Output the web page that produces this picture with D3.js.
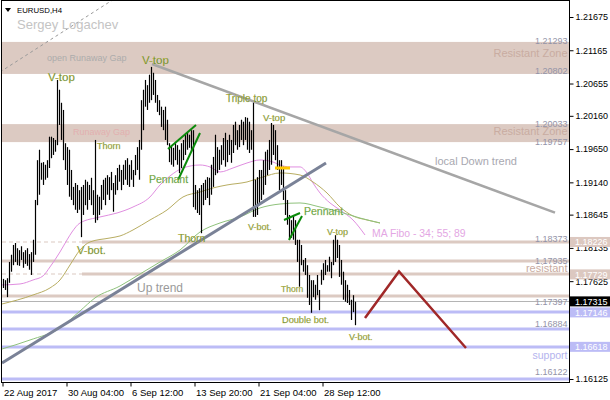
<!DOCTYPE html>
<html><head><meta charset="utf-8">
<script src="https://cdn.jsdelivr.net/npm/d3@7/dist/d3.min.js"></script>
<style>html,body{margin:0;padding:0;background:#fff;}svg{display:block;font-family:"Liberation Sans",Arial,sans-serif;}</style>
</head><body><svg id="c" width="610" height="400"></svg>
<script>
// ---------- data ----------
const highs = [
1.1766,1.1764,1.1767,1.1792,1.1803,1.1818,1.1821,1.1813,1.1810,1.1816,
1.1807,1.1810,1.1813,1.1804,1.1807,1.1826,1.1887,1.1948,1.1964,1.1944,
1.1945,1.1941,1.1948,1.1984,1.1984,1.1982,1.1979,1.2071,1.2056,1.2036,
1.2025,1.1974,1.1968,1.1964,1.1933,1.1907,1.1913,1.1910,1.1902,1.1907,
1.1910,1.1918,1.1915,1.1910,1.1921,1.1902,1.1979,1.1895,1.1892,1.1910,
1.1918,1.1921,1.1925,1.1922,1.1930,1.1913,1.1925,1.1936,1.1941,1.1933,
1.1941,1.1948,1.1951,1.1941,1.1948,1.1933,1.1956,1.1968,1.1979,1.2040,
1.2056,1.2071,1.2063,1.2079,1.2091,1.2082,1.2071,1.2048,1.2040,1.2030,
1.2025,1.2030,1.2010,1.1974,1.1971,1.1967,1.1974,1.1971,1.1964,1.1974,
1.1979,1.1987,1.1990,1.1987,1.1994,1.1994,1.1910,1.1902,1.1905,1.1910,
1.1913,1.1918,1.1922,1.1921,1.1941,1.1953,1.1987,1.1968,1.1964,1.1971,
1.1982,1.1990,1.1979,1.1987,1.1979,1.2002,1.2007,1.1994,1.2002,1.2010,
1.2007,1.2014,1.2013,1.2007,1.1994,1.2036,1.1918,1.1922,1.1933,1.1933,
1.1948,1.1961,1.1964,1.1979,1.2005,1.2002,1.1994,1.1971,1.1948,1.1948,
1.1938,1.1902,1.1887,1.1864,1.1856,1.1864,1.1856,1.1826,1.1826,1.1818,
1.1795,1.1798,1.1787,1.1772,1.1764,1.1764,1.1757,1.1772,1.1749,1.1780,
1.1790,1.1795,1.1787,1.1800,1.1792,1.1826,1.1833,1.1826,1.1818,1.1795,
1.1777,1.1764,1.1757,1.1749,1.1734,1.1741,1.1731];
const lows = [
1.1752,1.1749,1.1738,1.1760,1.1777,1.1787,1.1792,1.1787,1.1786,1.1795,
1.1783,1.1789,1.1786,1.1780,1.1772,1.1792,1.1803,1.1879,1.1895,1.1918,
1.1910,1.1918,1.1921,1.1936,1.1951,1.1956,1.1961,1.1971,1.2002,1.1979,
1.1948,1.1933,1.1910,1.1892,1.1887,1.1879,1.1872,1.1867,1.1872,1.1830,
1.1864,1.1879,1.1872,1.1887,1.1879,1.1864,1.1852,1.1856,1.1864,1.1872,
1.1887,1.1879,1.1895,1.1887,1.1902,1.1869,1.1895,1.1902,1.1915,1.1902,
1.1910,1.1918,1.1910,1.1907,1.1918,1.1907,1.1925,1.1933,1.1918,1.1964,
1.1994,1.2030,1.2025,1.2036,1.2040,1.2048,1.2036,1.2022,1.2017,1.1999,
1.1994,1.1979,1.1971,1.1945,1.1941,1.1938,1.1948,1.1941,1.1928,1.1936,
1.1948,1.1956,1.1964,1.1967,1.1961,1.1876,1.1872,1.1867,1.1864,1.1836,
1.1879,1.1887,1.1890,1.1879,1.1895,1.1907,1.1925,1.1928,1.1933,1.1941,
1.1948,1.1938,1.1945,1.1956,1.1944,1.1959,1.1971,1.1964,1.1968,1.1979,
1.1971,1.1979,1.1964,1.1959,1.1964,1.1861,1.1861,1.1864,1.1879,1.1887,
1.1895,1.1910,1.1925,1.1933,1.1941,1.1956,1.1948,1.1933,1.1902,1.1910,
1.1887,1.1864,1.1849,1.1826,1.1829,1.1826,1.1818,1.1792,1.1754,1.1787,
1.1777,1.1772,1.1737,1.1726,1.1714,1.1738,1.1734,1.1741,1.1718,1.1757,
1.1764,1.1772,1.1777,1.1777,1.1767,1.1787,1.1792,1.1798,1.1769,1.1757,
1.1734,1.1731,1.1729,1.1726,1.1703,1.1715,1.1695];

// moving averages (bar index, price)
const ma34Idx = [0,9,15.5,20.5,24,29,32.5,35,39,49,57.5,65.5,74,79,84,90.5,99,104,109,115.5,122.5,129,135.5,139,144,149,152.5,155.5,159,164,169,175.5,181.5];
const ma34Val = [1.17567,1.17582,1.17643,1.17705,1.17843,1.18073,1.18257,1.18379,1.18517,1.18609,1.18670,1.18762,1.18916,1.19100,1.19238,1.19360,1.19406,1.19376,1.19299,1.19360,1.19437,1.19483,1.19452,1.19406,1.19376,1.19376,1.19284,1.19130,1.18977,1.18824,1.18716,1.18563,1.18333];
const ma55Idx = [0,15.5,24,29,34,39,44,54,59,65.5,74,82.5,90.5,99,105.5,112.5,122.5,130.5,139,149,155.5,162.5,169,175.5,182.5,189];
const ma55Val = [1.17275,1.17413,1.17521,1.17643,1.17873,1.18103,1.18226,1.18287,1.18318,1.18410,1.18563,1.18716,1.18916,1.18992,1.19054,1.19100,1.19146,1.19222,1.19284,1.19253,1.19146,1.18977,1.18762,1.18624,1.18563,1.18517];
const ma89Idx = [0,14,29,39,46.5,59,69,79,89,99,109,119,129,139,149,159,169,179,189];
const ma89Val = [1.16585,1.16723,1.16907,1.17168,1.17368,1.17551,1.17735,1.17919,1.18103,1.18379,1.18517,1.18609,1.18747,1.18808,1.18824,1.18762,1.18686,1.18593,1.18517];

// drawn objects (bar index, price)
const upTrend = [[0,1.16371],[162,1.19437]];
const downTrend = [[75,1.20954],[276.5,1.18675]];
const channelDash = [[-1,1.20832],[56,1.21950]];
const pennantLines = [
  [[83,1.19651],[97,1.20019]],
  [[88,1.19176],[99,1.19897]],
  [[141,1.18563],[149,1.18670]],
  [[143.5,1.18257],[150,1.18624]]];
const yellowMark = [[136.5,1.19360],[144,1.19360]];
const projection = [[181.5,1.17061],[198.5,1.17773],[232,1.16601]];

// zones & levels
const zones = [[1.21293,1.20802],[1.20033,1.19757]];
const brownLevels = [1.18226,1.17935,1.17729,1.17397];
const blueLevels = [1.17146,1.16884,1.16618,1.16122];
const lastPrice = 1.17315;

// axes
const yTicks = [1.21675,1.21165,1.20655,1.20160,1.19650,1.19140,1.18645,1.18135,1.17625,1.16125];
const xTickIdx = [0,32,64,96,128,160];
const xTickLabels = ["22 Aug 2017","30 Aug 04:00","6 Sep 12:00","13 Sep 20:00","21 Sep 04:00","28 Sep 12:00"];
const priceBoxes = [[1.18226,"brown"],[1.17729,"brown"],[1.17315,"last"],[1.17146,"blue"],[1.16618,"blue"]];

// pattern labels: text, bar index, price, size
const patterns = [
  ["V-top",23,1.20694,11.5],["V-top",70,1.20954,11.5],["Thorn",47.5,1.19651,9],
  ["Pennant",73.5,1.19130,10.5],["Thorn",88,1.18226,10.5],["Triple top",112,1.20372,10],
  ["V-top",130.5,1.20081,9.5],["V-bot.",123,1.18410,9],["V-bot.",37.5,1.18042,11],
  ["Pennant",151,1.18640,10.5],["V-top",162.5,1.18333,9],["Thorn",139.5,1.17459,8.5],
  ["Double bot.",140,1.16984,9.2],["V-bot.",173.5,1.16723,9]];
const notes = [
  ["Up trend",67.5,1.17459,12,"#9a9a9a"],["local Down trend",216.5,1.19406,11,"#a8a8b0"],
  ["MA Fibo - 34; 55; 89",185,1.18302,10.4,"#e3a6e3"],["open Runaway Gap",22.5,1.21000,9,"#acacac"],
  ["Runaway Gap",35.5,1.19866,9,"#e2b0b0"]];
// right side labels: text, anchor price, colour type, size
const rightLabels = [
  ["1.21293",1.21257,"p",9],["Resistant Zone",1.21056,"z",11],["1.20802",1.20802,"p",9],
  ["1.20033",1.19985,"p",9],["Resistant Zone",1.19866,"z",11],["1.19757",1.19712,"p",9],
  ["1.18373",1.18226,"p",9],["1.17935",1.17889,"p",9],["resistant",1.17766,"z",11],
  ["1.17397",1.17260,"p",9],["1.16884",1.16915,"p",9],["support",1.16428,"s",10.5],
  ["1.16122",1.16186,"p",9]];

// ---------- drawing ----------
const svg = d3.select("#c");
const x = d3.scaleLinear().domain([0,283.5]).range([2,569]);
const y = d3.scaleLinear().domain([1.16125,1.21675]).range([379,17]);
const BAND="#dccac2", BLUE="#bcbcf6";

svg.append("defs").append("clipPath").attr("id","pc").append("rect")
  .attr("x",2).attr("y",1).attr("width",567).attr("height",381);
const g = svg.append("g").attr("clip-path","url(#pc)");

// zones
g.selectAll(".zone").data(zones).join("rect")
  .attr("x",2).attr("width",567)
  .attr("y",d=>y(d[0])).attr("height",d=>y(d[1])-y(d[0])).attr("fill",BAND);

// levels
brownLevels.forEach((v,k)=>{
  const yy=Math.round(y(v));
  const dashedLeft = (k===0||k===2);
  g.append("line").attr("x1",dashedLeft?82:2).attr("x2",569).attr("y1",yy).attr("y2",yy)
    .attr("stroke",BAND).attr("stroke-width",3);
  if(dashedLeft) g.append("line").attr("x1",2).attr("x2",82).attr("y1",yy).attr("y2",yy)
    .attr("stroke",BAND).attr("stroke-width",1.2).attr("stroke-dasharray","4,3");
});
g.append("line").attr("x1",2).attr("x2",569).attr("y1",Math.round(y(lastPrice))+0.5).attr("y2",Math.round(y(lastPrice))+0.5)
  .attr("stroke","#b4b4b4").attr("stroke-width",1);
blueLevels.forEach(v=>{
  const yy=Math.round(y(v));
  g.append("line").attr("x1",2).attr("x2",569).attr("y1",yy).attr("y2",yy)
    .attr("stroke",BLUE).attr("stroke-width",3);
});

// MAs
const maLine = d3.line().x(d=>x(d[0])).y(d=>y(d[1])).curve(d3.curveMonotoneX);
[[ma34Idx,ma34Val,"#e08ee0"],[ma55Idx,ma55Val,"#b8ad62"],[ma89Idx,ma89Val,"#8fc27c"]].forEach(([ix,vs,c])=>{
  g.append("path").attr("d",maLine(ix.map((i,k)=>[i,vs[k]]))).attr("fill","none").attr("stroke",c).attr("stroke-width",1);
});

const seg = d3.line().x(d=>x(d[0])).y(d=>y(d[1]));
// trend lines
g.append("path").attr("d",seg(channelDash)).attr("stroke","#9a9a9a").attr("stroke-width",1).attr("stroke-dasharray","3,3").attr("fill","none");
g.append("path").attr("d",seg(downTrend)).attr("stroke","#a6a6a6").attr("stroke-width",2.5).attr("fill","none");

// bars
g.selectAll(".bar").data(highs).join("line")
  .attr("x1",(d,i)=>Math.round(x(i))+1.5).attr("x2",(d,i)=>Math.round(x(i))+1.5)
  .attr("y1",d=>y(d)).attr("y2",(d,i)=>y(lows[i])).attr("stroke","#000").attr("stroke-width",1.2);

g.append("path").attr("d",seg(upTrend)).attr("stroke","#7a8297").attr("stroke-width",3).attr("fill","none");
pennantLines.forEach(p=>g.append("path").attr("d",seg(p)).attr("stroke","#0a8a0a").attr("stroke-width",2).attr("fill","none"));
g.append("path").attr("d",seg(yellowMark)).attr("stroke","#ffc800").attr("stroke-width",3).attr("fill","none");
g.append("path").attr("d",seg(projection)).attr("stroke","#a02828").attr("stroke-width",2.5).attr("fill","none");

// texts
patterns.forEach(([t,i,p,s])=>{
  g.append("text").attr("x",x(i)).attr("y",y(p)).attr("font-size",s).attr("fill",t==="Pennant"?"#119040":"#3d7a22")
   .attr("stroke","#e8d070").attr("stroke-width",0.25).text(t);
});
notes.forEach(([t,i,p,s,c])=>{
  g.append("text").attr("x",x(i)).attr("y",y(p)).attr("font-size",s).attr("fill",c).text(t);
});
const colType={p:"#9494a8",z:"#c9aca1",s:"#b4b4ee"};
rightLabels.forEach(([t,p,c,s])=>{
  g.append("text").attr("x",567.5).attr("y",y(p)).attr("text-anchor","end").attr("font-size",s).attr("fill",colType[c]).text(t);
});

// title
svg.append("path").attr("d","M5,8 L11,8 L8,12 Z").attr("fill","#000");
svg.append("text").attr("x",17).attr("y",12.5).attr("font-size",7.8).attr("fill","#000").text("EURUSD,H4");
svg.append("text").attr("x",17).attr("y",29).attr("font-size",13).attr("fill","#c4c4c4").text("Sergey Logachev");

// frame
svg.append("rect").attr("x",1.5).attr("y",0.5).attr("width",568).attr("height",382).attr("fill","none").attr("stroke","#000").attr("stroke-width",1);

// right axis
const ya = d3.axisRight(y).tickValues(yTicks).tickFormat(d3.format(".5f")).tickSize(4).tickPadding(2);
const yg = svg.append("g").attr("transform","translate(569.5,0)").call(ya);
yg.select(".domain").remove();
yg.selectAll("text").attr("font-size",9).attr("fill","#000").attr("font-family","Liberation Sans, Arial, sans-serif");
yg.selectAll("line").attr("stroke","#000");

// bottom axis
const xa = d3.axisBottom(x).tickValues(xTickIdx).tickFormat((d,k)=>xTickLabels[k]).tickSize(4).tickPadding(3);
const xg = svg.append("g").attr("transform","translate(0.5,382.5)").call(xa);
xg.select(".domain").remove();
xg.selectAll("text").attr("font-size",9.5).attr("fill","#000").attr("text-anchor","start").attr("dx",1)
  .attr("font-family","Liberation Sans, Arial, sans-serif");
xg.selectAll("line").attr("stroke","#000");

// price boxes
const boxFill={brown:"#dcc8c0",blue:"#bcbcf6",last:"#000"};
priceBoxes.forEach(([v,t])=>{
  const yy=y(v);
  svg.append("rect").attr("x",570).attr("y",yy-5).attr("width",40).attr("height",10).attr("fill",boxFill[t]);
  svg.append("text").attr("x",575).attr("y",yy+3.3).attr("font-size",9).attr("fill","#fff").text(d3.format(".5f")(v));
});
</script></body></html>
